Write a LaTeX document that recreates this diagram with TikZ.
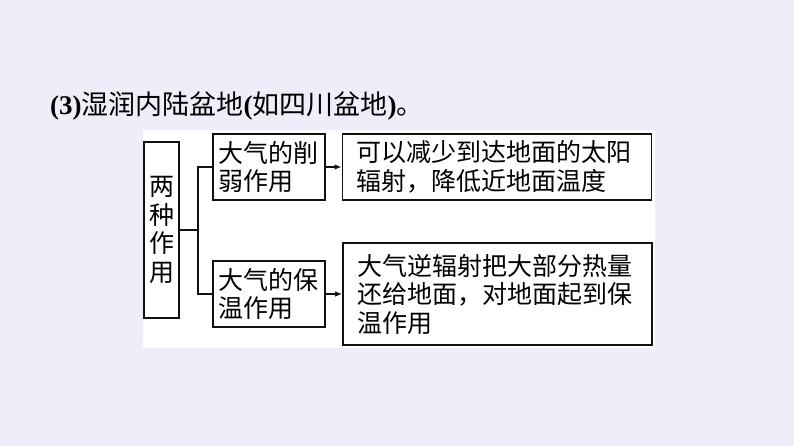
\documentclass[tikz,border=0pt]{standalone}
\usepackage{fontspec}
\setmainfont{Liberation Serif}
\newfontfamily\cjk{Noto Sans CJK SC}
\usepackage{xcolor}
\usepackage{tikz}
\usetikzlibrary{positioning,arrows.meta,calc}
\definecolor{tbg}{HTML}{EEEDF9}
\definecolor{tline}{HTML}{111111}

\begin{document}
\begin{tikzpicture}[x=1pt, y=1pt, font=\cjk\fontsize{25}{28.5}\selectfont,
  vbox/.style={draw=tline, line width=1.6pt, fill=white, minimum width=35pt, minimum height=176pt, inner sep=0pt, text width=26pt, align=center},
  mbox/.style={draw=tline, line width=1.6pt, fill=white, minimum height=66pt, inner xsep=5pt, inner ysep=0pt, text width=102pt, align=left},
  rbox/.style={draw=tline, line width=1.6pt, fill=white, minimum height=66pt, inner xsep=14pt, inner ysep=0pt, text width=281pt, align=left},
  arr/.style={-{Latex[length=7pt, width=5.5pt]}, line width=1.4pt, tline}]
\fill[tbg] (0,0) rectangle (794,446);
\fill[white] (143,98) rectangle (655,316);
\useasboundingbox (0,0) rectangle (794,446);
\node[anchor=base west, inner sep=0pt, font=\cjk\fontsize{27}{30}\selectfont] (title) at (50,331)
  {{\rmfamily\bfseries (3)}湿润内陆盆地{\rmfamily\bfseries (}如四川盆地{\rmfamily\bfseries )}。};
\node[vbox] (two) at (161.5,216) {两\\种\\作\\用};
\node[mbox] (weak) at (269,279) {大气的削\\弱作用};
\node[mbox] (warm) at (269,152) {大气的保\\温作用};
\node[rbox] (weakres) at (497,279) {可以减少到达地面的太阳\\辐射，降低近地面温度};
\node[rbox, minimum height=102pt] (warmres) at (497.5,152) {大气逆辐射把大部分热量\\还给地面，对地面起到保\\温作用};
% fork from the left box to both effects
\coordinate (fork) at ($(two.east)+(18,0)$);
\draw[tline, line width=1.4pt] (two.east) -- (fork);
\draw[tline, line width=1.4pt] (weak.west) -| (fork) |- (warm.west);
\draw[arr] (weak) -- (weakres);
\draw[arr] (warm) -- (warmres);
\end{tikzpicture}
\end{document}
